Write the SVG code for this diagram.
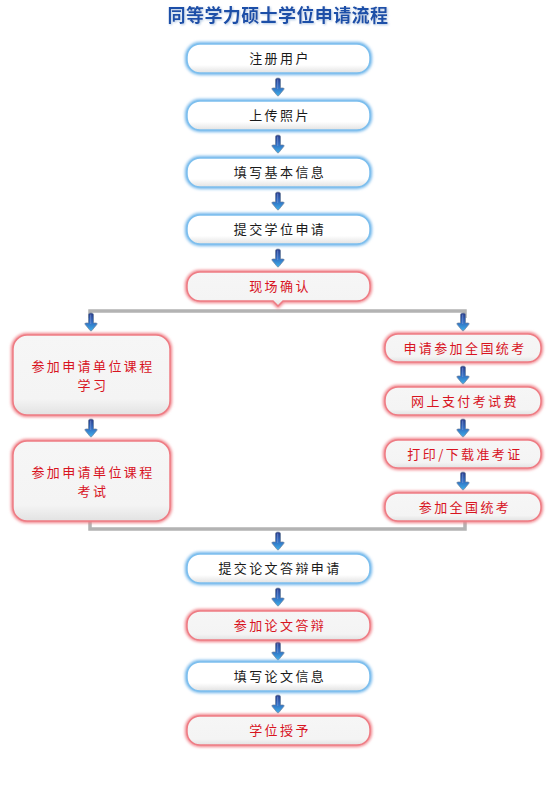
<svg xmlns="http://www.w3.org/2000/svg" width="555" height="788" viewBox="0 0 555 788">
<defs>
<linearGradient id="fillG" x1="0" y1="0" x2="0" y2="1">
<stop offset="0" stop-color="#ffffff"/><stop offset="0.72" stop-color="#ffffff"/><stop offset="1" stop-color="#e2e2e2"/>
</linearGradient>
<linearGradient id="fillR" x1="0" y1="0" x2="0" y2="1">
<stop offset="0" stop-color="#f6f6f6"/><stop offset="0.8" stop-color="#f4f4f4"/><stop offset="1" stop-color="#e2e2e2"/>
</linearGradient>
<linearGradient id="arrG" x1="0" y1="0" x2="0" y2="1">
<stop offset="0" stop-color="#2a3a88"/><stop offset="0.5" stop-color="#2f6cc0"/><stop offset="1" stop-color="#3fb0ea"/>
</linearGradient>
<filter id="glowB" x="-20%" y="-50%" width="140%" height="200%">
<feGaussianBlur stdDeviation="1.8"/>
</filter>
<filter id="tshadow" x="-10%" y="-30%" width="120%" height="160%">
<feGaussianBlur in="SourceAlpha" stdDeviation="1"/>
<feOffset dx="1" dy="1" result="b"/>
<feFlood flood-color="#9ab8dc" flood-opacity="0.8"/>
<feComposite in2="b" operator="in"/>
<feMerge><feMergeNode/><feMergeNode in="SourceGraphic"/></feMerge>
</filter>
<symbol id="arr" viewBox="0 0 16 20" overflow="visible">
<path d="M5.5 1.5 Q5.5 0 8 0 Q10.5 0 10.5 1.5 V10 H13.5 Q14.5 10.5 13.8 11.5 L8.8 17.6 Q8 18.5 7.2 17.6 L2.2 11.5 Q1.5 10.5 2.5 10 H5.5 Z" fill="url(#arrG)" stroke="#6d7f99" stroke-width="0.7"/>
<path d="M7 1.5 H8.3 V11 H7 Z" fill="#7a98d8" opacity="0.55"/>
</symbol>
</defs>
<style>
.gb{fill:none;stroke:#6db4ea;stroke-width:4;filter:url(#glowB)}
.gr{fill:none;stroke:#f08088;stroke-width:4;filter:url(#glowB)}
.bb{fill:url(#fillG);stroke:#7dbfee;stroke-width:1.5}
.br{fill:url(#fillR);stroke:#ee7c84;stroke-width:1.5}
.t{font-family:"Noto Sans CJK SC","Noto Sans",sans-serif;font-size:13px;letter-spacing:2.4px;text-anchor:middle}
.tk{fill:#1a1a1a}
.tr{fill:#d8141f}
.ln{fill:none;stroke:#b3b3b3;stroke-width:3.5}
</style>
<text x="278" y="22" filter="url(#tshadow)" style="font-family:'Noto Sans CJK SC',sans-serif;font-size:18px;font-weight:bold;letter-spacing:0.4px;text-anchor:middle;fill:#1c4fa8">同等学力硕士学位申请流程</text>

<g id="connectors">
<path class="ln" d="M90 318 V311 H465 V318"/>
<path class="ln" d="M90 521 V529 H465 V521"/>
<use href="#arr" x="270" y="78" width="16" height="20"/>
<use href="#arr" x="270" y="135" width="16" height="20"/>
<use href="#arr" x="270" y="192" width="16" height="20"/>
<use href="#arr" x="270" y="249" width="16" height="20"/>
<use href="#arr" x="83" y="313" width="16" height="20"/>
<use href="#arr" x="455" y="313" width="16" height="20"/>
<use href="#arr" x="83" y="419" width="16" height="20"/>
<use href="#arr" x="455" y="366" width="16" height="20"/>
<use href="#arr" x="455" y="419" width="16" height="20"/>
<use href="#arr" x="455" y="472" width="16" height="20"/>
<use href="#arr" x="270" y="532" width="16" height="20"/>
<use href="#arr" x="270" y="588" width="16" height="20"/>
<use href="#arr" x="270" y="642" width="16" height="20"/>
<use href="#arr" x="270" y="695" width="16" height="20"/>
</g>

<g id="n1"><rect class="gb" x="187" y="44" width="183" height="29" rx="13"/><rect class="bb" x="187" y="44" width="183" height="29" rx="13"/><text class="t tk" x="280" y="63">注册用户</text></g>
<g id="n2"><rect class="gb" x="187" y="101" width="183" height="29" rx="13"/><rect class="bb" x="187" y="101" width="183" height="29" rx="13"/><text class="t tk" x="280" y="120">上传照片</text></g>
<g id="n3"><rect class="gb" x="187" y="158" width="183" height="29" rx="13"/><rect class="bb" x="187" y="158" width="183" height="29" rx="13"/><text class="t tk" x="280" y="177">填写基本信息</text></g>
<g id="n4"><rect class="gb" x="187" y="215" width="183" height="29" rx="13"/><rect class="bb" x="187" y="215" width="183" height="29" rx="13"/><text class="t tk" x="280" y="234">提交学位申请</text></g>
<g id="n5"><path class="gr" d="M200 272 H357 A13 13 0 0 1 370 285 V288 A13 13 0 0 1 357 301 H283 L278 306 L273 301 H200 A13 13 0 0 1 187 288 V285 A13 13 0 0 1 200 272 Z"/><path class="br" d="M200 272 H357 A13 13 0 0 1 370 285 V288 A13 13 0 0 1 357 301 H283 L278 306 L273 301 H200 A13 13 0 0 1 187 288 V285 A13 13 0 0 1 200 272 Z"/><text class="t tr" x="280" y="291">现场确认</text></g>

<g id="n6"><rect class="gr" x="13" y="335" width="157" height="80" rx="14"/><rect class="br" x="13" y="335" width="157" height="80" rx="14"/><text class="t tr" x="93" y="371">参加申请单位课程</text><text class="t tr" x="93" y="390">学习</text></g>
<g id="n7"><rect class="gr" x="13" y="441" width="157" height="80" rx="14"/><rect class="br" x="13" y="441" width="157" height="80" rx="14"/><text class="t tr" x="93" y="477">参加申请单位课程</text><text class="t tr" x="93" y="496">考试</text></g>

<g id="n8"><rect class="gr" x="385" y="334" width="156" height="28" rx="13"/><rect class="br" x="385" y="334" width="156" height="28" rx="13"/><text class="t tr" x="465" y="353">申请参加全国统考</text></g>
<g id="n9"><rect class="gr" x="385" y="387" width="156" height="28" rx="13"/><rect class="br" x="385" y="387" width="156" height="28" rx="13"/><text class="t tr" x="465" y="406">网上支付考试费</text></g>
<g id="n10"><rect class="gr" x="385" y="440" width="156" height="28" rx="13"/><rect class="br" x="385" y="440" width="156" height="28" rx="13"/><text class="t tr" x="465" y="459">打印/下载准考证</text></g>
<g id="n11"><rect class="gr" x="385" y="493" width="156" height="28" rx="13"/><rect class="br" x="385" y="493" width="156" height="28" rx="13"/><text class="t tr" x="465" y="512">参加全国统考</text></g>

<g id="n12"><rect class="gb" x="187" y="554" width="183" height="29" rx="13"/><rect class="bb" x="187" y="554" width="183" height="29" rx="13"/><text class="t tk" x="280" y="573">提交论文答辩申请</text></g>
<g id="n13"><rect class="gr" x="187" y="611" width="183" height="29" rx="13"/><rect class="br" x="187" y="611" width="183" height="29" rx="13"/><text class="t tr" x="280" y="630">参加论文答辩</text></g>
<g id="n14"><rect class="gb" x="187" y="662" width="183" height="29" rx="13"/><rect class="bb" x="187" y="662" width="183" height="29" rx="13"/><text class="t tk" x="280" y="681">填写论文信息</text></g>
<g id="n15"><rect class="gr" x="187" y="716" width="183" height="29" rx="13"/><rect class="br" x="187" y="716" width="183" height="29" rx="13"/><text class="t tr" x="280" y="735">学位授予</text></g>
</svg>
